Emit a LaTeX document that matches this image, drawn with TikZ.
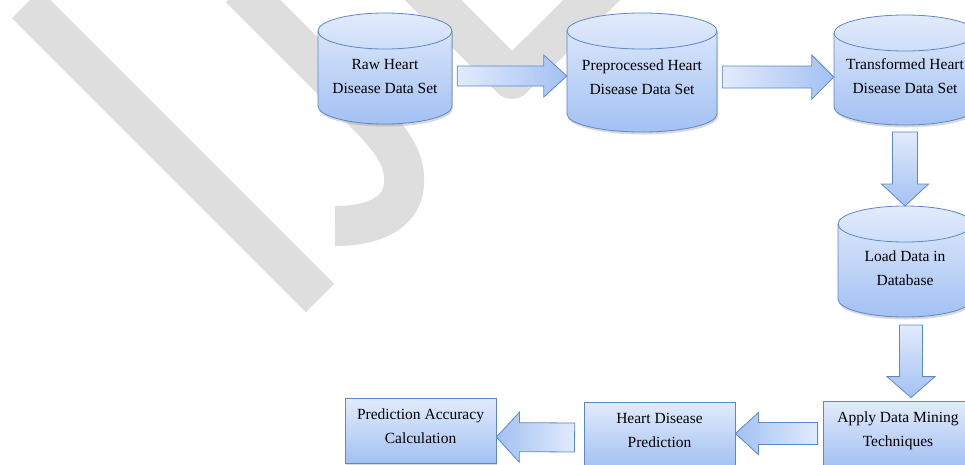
\documentclass[tikz,border=0pt]{standalone}
\usepackage{fontspec}
\setmainfont{Liberation Serif}
\usepackage{tikz}
\usepackage{xcolor}
\usetikzlibrary{calc,shadows}

\definecolor{wmgray}{HTML}{DEDEDE}
\definecolor{rimblue}{HTML}{5A88C8}
\definecolor{paleblue}{HTML}{E2EBFC}
\definecolor{deepblue}{HTML}{A3C1F3}

% fat block arrow: [shading] {from} {to} {shaft half width} {head half width} {head length}
\newcommand{\fatarrow}[6][]{%
  \path[blockarrow,#1] let \p1=(#2), \p2=(#3),
      \n1={veclen(\x2-\x1,\y2-\y1)}, \n2={atan2(\y2-\y1,\x2-\x1)} in
      [shift={(\p1)}, rotate=\n2]
      (0,#4) -- ({\n1-#6},#4) -- ({\n1-#6},#5) -- (\n1,0) -- ({\n1-#6},-#5)
      -- ({\n1-#6},-#4) -- (0,-#4) -- cycle;
}

% database drum: {name} {centre x} {top y} {bottom y} {half width} {text y} {text}
\newcommand{\database}[7]{%
  \path[dbbody] ({#2-#5},{-#3-18}) arc[start angle=180, end angle=0, x radius=#5, y radius=18]
      -- ({#2+#5},{-#4+18}) arc[start angle=0, end angle=-180, x radius=#5, y radius=18] -- cycle;
  \draw[dbrim] ({#2-#5},{-#3-18}) arc[start angle=180, end angle=360, x radius=#5, y radius=18];
  \node (#1) [dbtext, minimum width=2*#5] at (#2,-#6) {#7};
}

\begin{document}
\begin{tikzpicture}[x=1pt, y=1pt,
    watermark/.style={draw=wmgray, line width=40pt, line cap=butt},
    softshadow/.style={drop shadow={shadow xshift=1pt, shadow yshift=-2.5pt, opacity=0.3, fill=black!50}},
    dbbody/.style={draw=rimblue, line width=0.8pt, top color=paleblue, bottom color=deepblue, softshadow},
    dbrim/.style={draw=rimblue, line width=0.8pt},
    dbtext/.style={align=center, inner sep=0pt, font=\fontsize{15.5}{24}\selectfont},
    procbox/.style={rectangle, draw=rimblue, line width=0.8pt, top color=paleblue, bottom color=deepblue,
      softshadow, align=center, inner sep=0pt, text depth=8pt, font=\fontsize{15.5}{24}\selectfont},
    blockarrow/.style={draw=rimblue, line width=0.8pt, line join=miter},
    rightshade/.style={left color=paleblue, right color=deepblue},
    downshade/.style={top color=paleblue, bottom color=deepblue},
    leftshade/.style={left color=deepblue, right color=paleblue}]

    \useasboundingbox (0,0) rectangle (965,-464);
    \clip (0,0) rectangle (965,-464);

    % watermark strokes
    \draw[watermark] (26,-4) -- (320,-298);
    \draw[watermark] (240,12) -- (365,-113) .. controls (393,-141) and (406,-160) .. (404,-185)
        .. controls (402,-212) and (375,-226) .. (335,-226);
    \draw[watermark, line join=round] (413,20) -- (512,-79) -- (612,20);

    % data sets
    \database{raw}{385}{13}{124}{67}{76}{Raw Heart\\Disease Data Set}
    \database{pre}{642}{13}{132}{75}{77}{Preprocessed Heart\\Disease Data Set}
    \database{trans}{905}{15}{125}{71}{76}{Transformed Heart\\Disease Data Set}
    \database{load}{905}{206}{317}{67}{268}{Load Data in\\Database}

    % processing steps
    \node (pac) [procbox, minimum width=151, minimum height=65] at (420.5,-430.5) {Prediction Accuracy\\Calculation};
    \node (hdp) [procbox, minimum width=151, minimum height=65] at (659.5,-434.5) {Heart Disease\\Prediction};
    \node (apply) [procbox, minimum width=150, minimum height=65] at (898,-433.5) {Apply Data Mining\\Techniques};

    % flow
    \fatarrow[rightshade]{[xshift=5]raw.east}{pre.west |- raw.east}{10}{21}{23}
    \fatarrow[rightshade]{[xshift=5]pre.east}{trans.west |- pre.east}{11}{22}{22}
    \fatarrow[downshade]{[yshift=-56]trans.center}{[yshift=62]load.center}{12.5}{23.5}{22}
    \fatarrow[downshade]{[xshift=6,yshift=-57]load.center}{[xshift=13,yshift=3]apply.north}{11.5}{24}{21}
    \fatarrow[leftshade]{[xshift=-5]apply.west}{hdp.east |- apply.west}{11}{21}{23}
    \fatarrow[leftshade]{[xshift=-9,yshift=-3]hdp.west}{[yshift=-6.5]pac.east}{14.5}{25}{23}

\end{tikzpicture}
\end{document}
